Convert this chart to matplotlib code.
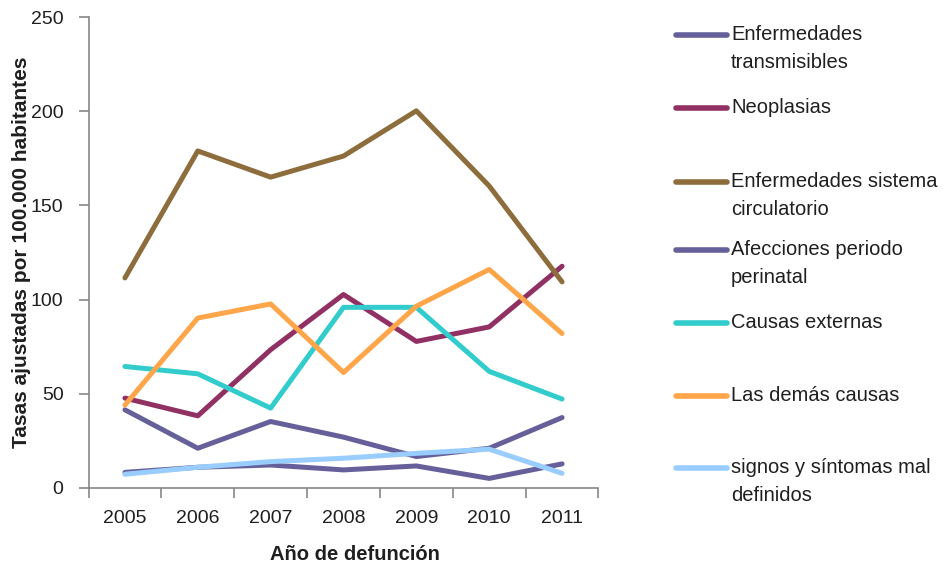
import matplotlib
matplotlib.use("Agg")
import matplotlib.pyplot as plt
from matplotlib.lines import Line2D

plt.rcParams['font.family'] = ['Liberation Sans', 'DejaVu Sans']

years = ['2005', '2006', '2007', '2008', '2009', '2010', '2011']
transmisibles = [8.3, 11.0, 12.2, 9.6, 11.7, 5.1, 12.8]
neoplasias = [47.7, 38.3, 73.4, 102.7, 77.8, 85.5, 117.7]
circulatorio = [111.5, 178.9, 165.0, 176.2, 200.2, 160.3, 109.4]
perinatal = [41.5, 21.1, 35.3, 27.0, 16.7, 21.1, 37.4]
externas = [64.5, 60.6, 42.4, 95.9, 95.9, 61.9, 47.2]
demas = [44.0, 90.2, 97.7, 61.3, 96.5, 116.0, 82.0]
signos = [7.3, 11.0, 14.0, 15.8, 18.4, 20.6, 7.8]

labels = ['Enfermedades\ntransmisibles', 'Neoplasias', 'Enfermedades sistema\ncirculatorio',
          'Afecciones periodo\nperinatal', 'Causas externas', 'Las demás causas',
          'signos y síntomas mal\ndefinidos']
series = [transmisibles, neoplasias, circulatorio, perinatal, externas, demas, signos]
colors = ['#66609A', '#913163', '#8C6D3B', '#66609A', '#33CCCC', '#FFA54A', '#99CCFF']

W, H = 943, 565
fig = plt.figure(figsize=(W / 100, H / 100), dpi=100)
ax = fig.add_axes([88.5 / W, 1 - 488 / H, 510 / W, 471 / H])

x = list(range(len(years)))
for s, c in zip(series, colors):
    ax.plot(x, s, color=c, lw=3.6, solid_capstyle='round', solid_joinstyle='round')

ax.set_xlim(-0.5, len(years) - 0.5)
ax.set_ylim(0, 250)
ax.set_yticks([0, 50, 100, 150, 200, 250])
ax.set_xticks(x)
ax.set_xticklabels(years)
ax.set_xticks([i - 0.5 for i in range(len(years) + 1)], minor=True)
ax.tick_params(axis='x', which='major', length=0, pad=16, labelsize=14, labelcolor='#1F1F1F')
ax.tick_params(axis='x', which='minor', length=7, width=1.2, color='#888888', direction='out')
ax.tick_params(axis='y', length=7, width=1.2, color='#888888', pad=11, labelsize=14, labelcolor='#1F1F1F')
for sp in ['top', 'right']:
    ax.spines[sp].set_visible(False)
for sp in ['left', 'bottom']:
    ax.spines[sp].set_color('#888888')
    ax.spines[sp].set_linewidth(1.2)

ax.set_xlabel('Año de defunción', fontsize=14.5, fontweight='bold', color='#1F1F1F')
ax.xaxis.set_label_coords(0.522, -0.12)
ax.set_ylabel('Tasas ajustadas por 100.000 habitantes', fontsize=15, fontweight='bold', color='#1F1F1F')
ax.yaxis.set_label_coords(-0.112, 0.5)

# manual legend
leg_y = [35, 108, 182, 250, 323, 396, 468]
for lab, c, yy in zip(labels, colors, leg_y):
    fy = 1 - yy / H
    fig.add_artist(Line2D([676 / W, 727 / W], [fy, fy], color=c, lw=4,
                          solid_capstyle='round', transform=fig.transFigure))
    fig.text(731 / W, 1 - (yy - 10) / H, lab, fontsize=14.5, color='#1F1F1F',
             va='top', ha='left', linespacing=1.6)

fig.savefig('out.png', dpi=100, facecolor='white')
